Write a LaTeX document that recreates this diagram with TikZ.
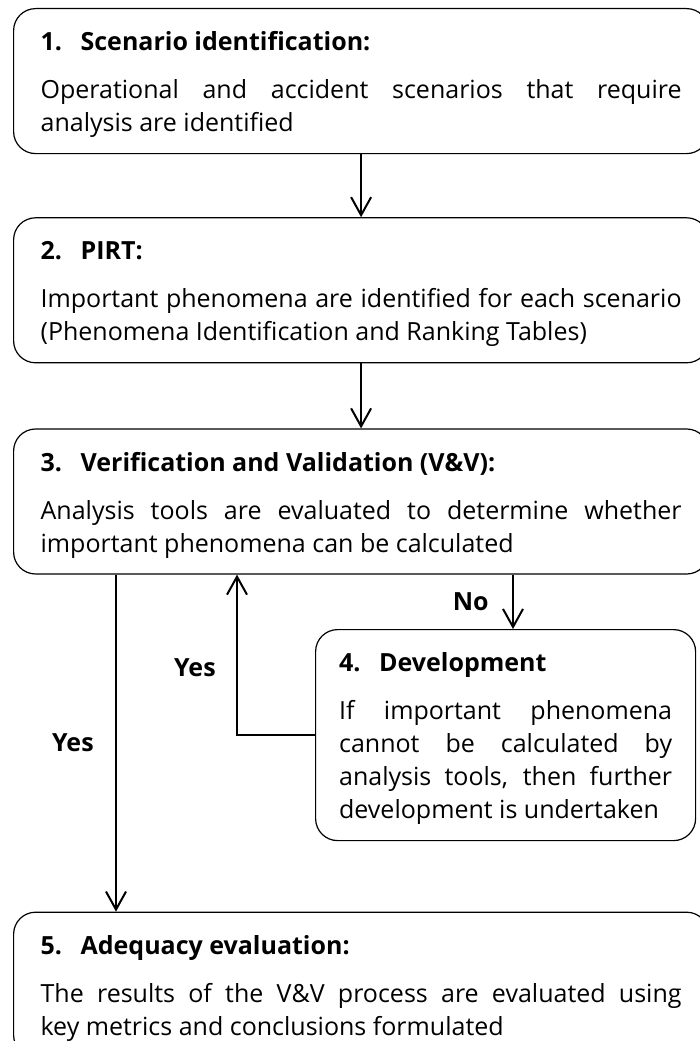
\documentclass[tikz,border=0pt]{standalone}
\usepackage{fontspec}
\setmainfont{Open Sans}
\usetikzlibrary{arrows.meta, positioning}

\newcommand{\topgap}{\rule{0pt}{42pt}}
\newcommand{\botgap}{\rule[-22pt]{0pt}{22pt}}
\newcommand{\stagetitle}[2]{\textbf{\makebox[40pt][l]{#1}#2}\topgap\\[15pt]}

\begin{document}
\begin{tikzpicture}[
        x=1pt, y=-1pt,
        stage/.style={rectangle, draw=black, line width=1.2pt, rounded corners=22pt, anchor=north west, align=justify, inner xsep=27pt, inner ysep=0pt, text width=641pt, font=\fontsize{25}{33}\selectfont},
        flow/.style={draw, line width=2pt, -{Straight Barb[length=18pt, width=20pt, line width=2pt]}},
        answer/.style={font=\fontsize{25}{33}\selectfont\bfseries}
    ]
        \useasboundingbox (0,0) rectangle (700,1041);

        \node[stage] (scen) at (13,8) {\stagetitle{1.}{Scenario identification:} Operational and accident scenarios that require\linebreak analysis are identified\botgap};
        \node[stage, below=63pt of scen] (pirt) {\stagetitle{2.}{PIRT:} Important phenomena are identified for each scenario\linebreak (Phenomena Identification and Ranking Tables)\botgap};
        \node[stage, below=65pt of pirt] (vv) {\stagetitle{3.}{Verification and Validation (V\&V):} Analysis tools are evaluated to determine whether\linebreak important phenomena can be calculated\botgap};
        \node[stage, text width=333pt, inner xsep=23.5pt] (dev) at (315,629) {\stagetitle{4.}{Development} If important phenomena\linebreak cannot be calculated by\linebreak analysis tools, then further\linebreak development is undertaken\botgap};
        \node[stage, below=337pt of vv] (adeq) {\stagetitle{5.}{Adequacy evaluation:} The results of the V\&V process are evaluated using\linebreak key metrics and conclusions formulated\botgap};

        % x positions of the vertical connectors
        \coordinate (yesx) at (116,0);
        \coordinate (loopx) at (237,0);
        \coordinate (nox) at (513,0);

        \draw[flow] (scen) -- (pirt);
        \draw[flow] (pirt) -- (vv);
        \draw[flow] (vv.south -| nox) -- node[answer, left=20pt] {No} (dev.north -| nox);
        \draw[flow] (dev.west) -| node[answer, pos=0.71, left=17pt] {Yes} (vv.south -| loopx);
        \draw[flow] (vv.south -| yesx) -- node[answer, left=18pt] {Yes} (adeq.north -| yesx);

    \end{tikzpicture}
\end{document}
